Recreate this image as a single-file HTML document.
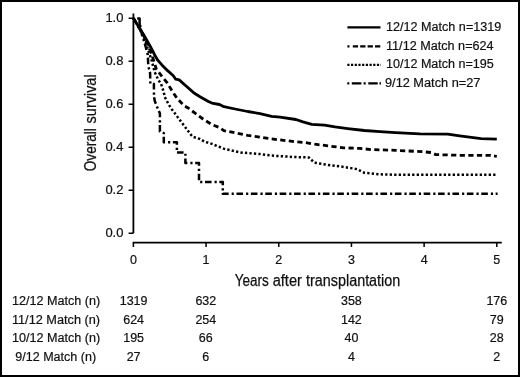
<!DOCTYPE html>
<html lang="en">
<head>
<meta charset="utf-8">
<title>Overall survival by HLA match</title>
<style>
  html,body{margin:0;padding:0;background:#fff;}
  body{width:520px;height:377px;overflow:hidden;}
  svg{display:block;will-change:transform;}
  text{font-family:"Liberation Sans",Arial,Helvetica,sans-serif;fill:#111;}
  .t{font-size:12px;stroke:#111;stroke-width:0.2;}
  .ttl{font-size:16px;stroke:#111;stroke-width:0.25;}
  .ax{stroke:#000;stroke-width:1.8;fill:none;}
  .cv{stroke:#000;fill:none;stroke-linejoin:round;}
</style>
</head>
<body>
<svg width="520" height="377" viewBox="0 0 520 377">
  <rect x="0" y="0" width="520" height="377" fill="#fff"/>
  <rect x="1" y="1" width="518" height="375" fill="none" stroke="#000" stroke-width="2"/>

  <!-- axes -->
  <path class="ax" d="M133.4 13.5V233.2"/>
  <path class="ax" style="stroke-width:1.5" d="M128.6 233.2H133.4M128.6 190.2H133.4M128.6 147.2H133.4M128.6 104.2H133.4M128.6 61.2H133.4M128.6 18.2H133.4"/>
  <path class="ax" d="M132.7 242.6H501.8"/>
  <path class="ax" style="stroke-width:1.5" d="M133.4 242.6V247M206.08 242.6V247M278.76 242.6V247M351.44 242.6V247M424.12 242.6V247M496.8 242.6V247"/>
  <!-- tick labels -->
  <g class="t">
    <text transform="translate(123.4 237.4) scale(1.08 1)" text-anchor="end">0.0</text>
    <text transform="translate(123.4 194.4) scale(1.08 1)" text-anchor="end">0.2</text>
    <text transform="translate(123.4 151.4) scale(1.08 1)" text-anchor="end">0.4</text>
    <text transform="translate(123.4 108.4) scale(1.08 1)" text-anchor="end">0.6</text>
    <text transform="translate(123.4 65.4) scale(1.08 1)" text-anchor="end">0.8</text>
    <text transform="translate(123.4 22.4) scale(1.08 1)" text-anchor="end">1.0</text>
    <text transform="translate(133.4 264.2) scale(1.04 1)" text-anchor="middle">0</text>
    <text transform="translate(206.08 264.2) scale(1.04 1)" text-anchor="middle">1</text>
    <text transform="translate(278.76 264.2) scale(1.04 1)" text-anchor="middle">2</text>
    <text transform="translate(351.44 264.2) scale(1.04 1)" text-anchor="middle">3</text>
    <text transform="translate(424.12 264.2) scale(1.04 1)" text-anchor="middle">4</text>
    <text transform="translate(496.8 264.2) scale(1.04 1)" text-anchor="middle">5</text>
  </g>
  <!-- axis titles -->
  <g class="ttl">
    <text x="234.8" y="286" textLength="34" lengthAdjust="spacingAndGlyphs">Years</text>
    <text x="272.7" y="286" textLength="29.2" lengthAdjust="spacingAndGlyphs">after</text>
    <text x="306" y="286" textLength="94.3" lengthAdjust="spacingAndGlyphs">transplantation</text>
    <g transform="translate(95.7 0) rotate(-90)">
      <text x="-171.2" y="0" textLength="43" lengthAdjust="spacingAndGlyphs">Overall</text>
      <text x="-123.4" y="0" textLength="49" lengthAdjust="spacingAndGlyphs">survival</text>
    </g>
  </g>
  <!-- curves -->
  <!-- 9/12 -->
  <path class="cv" stroke-width="2.5" d="M137.2 18.5H139.6V25"/>
  <path class="cv" stroke-width="2.5" stroke-dasharray="6.6 3 2.2 2.6" stroke-dashoffset="7"
    d="M139.6 22.5L140.4 27 142 35 144.3 42 146 48 147.8 55 148.3 66 150.1 73 150.3 83.6 153.9 84 154 97 154.8 101 156.9 106.6 159.9 113.3V131.6L163.8 133.2V142.2H176.9V152.5H185.4V163.1H199V182.1H222.8V193.8H497.6"/>
  <!-- 10/12 -->
  <path class="cv" stroke-width="2.5" stroke-dasharray="2.3 2.2"
    d="M133.4 18.2L138 26 142.6 35 146.5 45 149.5 54 151.5 60 154.7 72.1 156.7 76.5 158.7 80.4 161.1 84 162.5 88.3 163.9 92.7 164.8 97.1 166.9 101.2 169 105 171.8 109.3 181.3 122 190.9 134.7 192.5 136.7 200 139 204.5 141.6 211.9 143.9 223.6 148.6 240.6 152.5 259.7 154 271.6 155.6 295.5 157.1 308.8 157.4 314.2 162.6 327.7 164.9 343.6 166.9 357.3 169.2 364.4 172.8 380 174.3 395.5 174.8H497"/>
  <!-- 11/12 -->
  <path class="cv" stroke-width="2.8" stroke-dasharray="5.2 3.4"
    d="M133.4 18.2L138.3 26.3 143.3 35 148 45 151.5 54 153.5 60 156.3 69 161.9 76.3 167.4 83.2 172.2 91.1 177 98.3 184 105.6 187.7 107.7 203 119 211.9 124.6 219.5 127.6 223.9 130.6 247.7 135.3 271.6 138.9 295.5 141.8 305.4 142.6 315 144.2 330.9 146.2 343.6 147.8 359.5 148.4 371.6 149.6 395.5 150.3 423.9 151.8 431 152.5 435.8 154.6 459.7 155.3 490.7 155.3 496.8 156.5"/>
  <!-- 12/12 -->
  <path class="cv" stroke-width="2.8"
    d="M133.4 18.2L138.5 26.5 143.8 35 149.5 45 152.8 51.2 154.7 55 157.6 60 161.9 64.9 167.9 70.9 173.3 75.7 175.7 79.2 179.2 79.9 185.8 85.8 193.6 92.6 195.6 94 200 96.8 208.4 101.4 211.9 103.1 219.5 104.5 223.9 106.7 235 109 247.7 111.5 260 113.6 271.6 116.3 280 117.2 295.9 119.5 303 121.8 311.8 124.3 324.5 125.1 335 126.9 347.7 128.6 364.4 130.5 380 131.6 395.5 132.6 410 133.3 420 133.9 447.7 134.1 459.7 135.8 481.1 138.6 496.8 139.1"/>

  <!-- legend -->
  <path class="cv" stroke-width="2.3" d="M347.4 27.4H380.5"/>
  <path class="cv" stroke-width="2.4" stroke-dasharray="2.1 3.3 5.3 2.1 5.3 2.1 5.3 2.1 5.3 100" d="M347.4 46.4H381"/>
  <path class="cv" stroke-width="2.3" stroke-dasharray="2.2 1.5" d="M347.3 64.9H381"/>
  <path class="cv" stroke-width="2.3" stroke-dasharray="2 2.5 9.6 2.2 2.1 2.6 9.4 1.8 2 100" d="M347.3 83.4H381"/>
  <g class="t">
    <text x="386" y="31" textLength="115.3" lengthAdjust="spacingAndGlyphs">12/12 Match n=1319</text>
    <text x="386" y="49.8" textLength="107.6" lengthAdjust="spacingAndGlyphs">11/12 Match n=624</text>
    <text x="386" y="68.4" textLength="107.8" lengthAdjust="spacingAndGlyphs">10/12 Match n=195</text>
    <text x="385" y="87" textLength="95.4" lengthAdjust="spacingAndGlyphs">9/12 Match n=27</text>
  </g>

  <!-- number at risk table -->
  <g class="t">
    <text x="11.9" y="305" textLength="88.2" lengthAdjust="spacingAndGlyphs">12/12 Match (n)</text>
    <text x="11.9" y="323.5" textLength="88.2" lengthAdjust="spacingAndGlyphs">11/12 Match (n)</text>
    <text x="11.9" y="342" textLength="88.2" lengthAdjust="spacingAndGlyphs">10/12 Match (n)</text>
    <text x="15.3" y="360.7" textLength="80.8" lengthAdjust="spacingAndGlyphs">9/12 Match (n)</text>
    <text transform="translate(133.6 305) scale(1.04 1)" text-anchor="middle">1319</text>
    <text transform="translate(133.6 323.5) scale(1.04 1)" text-anchor="middle">624</text>
    <text transform="translate(133.6 342) scale(1.04 1)" text-anchor="middle">195</text>
    <text transform="translate(133.6 360.7) scale(1.04 1)" text-anchor="middle">27</text>
    <text transform="translate(205.8 305) scale(1.04 1)" text-anchor="middle">632</text>
    <text transform="translate(205.8 323.5) scale(1.04 1)" text-anchor="middle">254</text>
    <text transform="translate(205.8 342) scale(1.04 1)" text-anchor="middle">66</text>
    <text transform="translate(205.8 360.7) scale(1.04 1)" text-anchor="middle">6</text>
    <text transform="translate(351.4 305) scale(1.04 1)" text-anchor="middle">358</text>
    <text transform="translate(351.4 323.5) scale(1.04 1)" text-anchor="middle">142</text>
    <text transform="translate(351.4 342) scale(1.04 1)" text-anchor="middle">40</text>
    <text transform="translate(351.4 360.7) scale(1.04 1)" text-anchor="middle">4</text>
    <text transform="translate(496.8 305) scale(1.04 1)" text-anchor="middle">176</text>
    <text transform="translate(496.8 323.5) scale(1.04 1)" text-anchor="middle">79</text>
    <text transform="translate(496.8 342) scale(1.04 1)" text-anchor="middle">28</text>
    <text transform="translate(496.8 360.7) scale(1.04 1)" text-anchor="middle">2</text>
  </g>
</svg>
</body>
</html>
